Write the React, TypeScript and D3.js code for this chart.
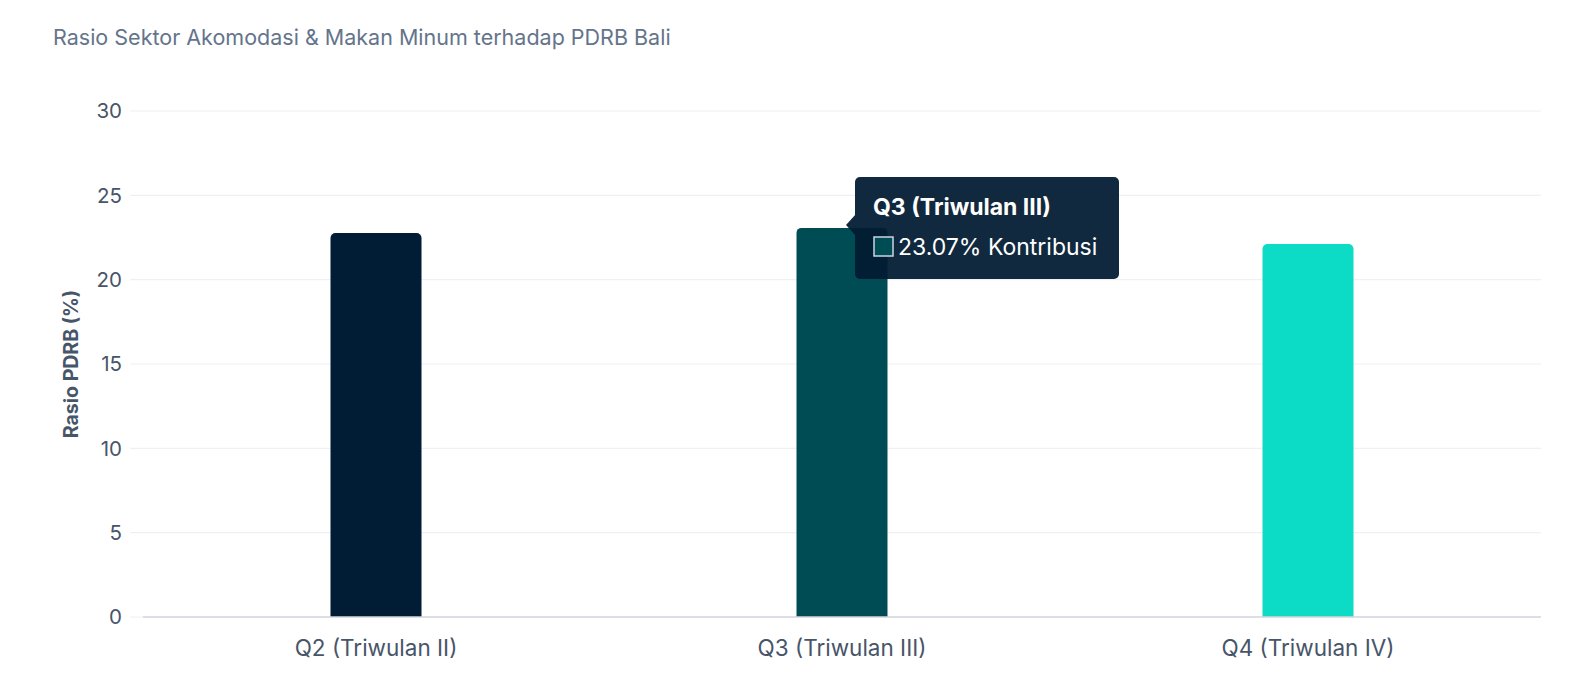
import { useEffect, useRef } from "react";
import * as d3 from "d3";

const quarters = ["Q2 (Triwulan II)", "Q3 (Triwulan III)", "Q4 (Triwulan IV)"];
const ratios = [22.77, 23.07, 22.11];
const barColors = ["#011d36", "#004c54", "#0cdbc6"];
const yTicks = [0, 5, 10, 15, 20, 25, 30];

const chartTitle = "Rasio Sektor Akomodasi & Makan Minum terhadap PDRB Bali";
const yTitle = "Rasio PDRB (%)";
const activeIndex = 1;
const tooltipLabel = "Kontribusi";

const width = 1596;
const height = 688;
const margin = { top: 111, right: 55, bottom: 71, left: 143 };
const font = "Inter, 'Noto Sans', sans-serif";

export default function App() {
  const svgRef = useRef<SVGSVGElement>(null);

  useEffect(() => {
    if (!svgRef.current) return;
    const svg = d3.select(svgRef.current);
    svg.selectAll("*").remove();

    const x0 = margin.left;
    const x1 = width - margin.right;
    const yBottom = height - margin.bottom;

    const xScale = d3.scaleBand().domain(quarters).range([x0, x1]);
    const yScale = d3.scaleLinear().domain([0, 30]).range([yBottom, margin.top]);
    const barWidth = 91;

    // title
    svg
      .append("text")
      .attr("x", 53)
      .attr("y", 45)
      .attr("font-family", font)
      .attr("font-size", 21.5)
      .attr("fill", "#64748b")
      .text(chartTitle);

    // grid lines
    svg
      .append("g")
      .selectAll("line")
      .data(yTicks)
      .join("line")
      .attr("x1", x0 - 13)
      .attr("x2", x1)
      .attr("y1", (d) => yScale(d))
      .attr("y2", (d) => yScale(d))
      .attr("stroke", "#f0f0f4")
      .attr("stroke-width", 1.2);

    // y tick labels
    svg
      .append("g")
      .selectAll("text")
      .data(yTicks)
      .join("text")
      .attr("x", 122)
      .attr("y", (d) => yScale(d))
      .attr("dy", "0.35em")
      .attr("text-anchor", "end")
      .attr("font-family", font)
      .attr("font-size", 20.5)
      .attr("fill", "#475569")
      .text((d) => d);

    // y axis title
    svg
      .append("text")
      .attr("transform", `translate(78,${(yBottom + margin.top) / 2}) rotate(-90)`)
      .attr("text-anchor", "middle")
      .attr("font-family", font)
      .attr("font-size", 19.5)
      .attr("font-weight", 700)
      .attr("fill", "#475569")
      .text(yTitle);

    // bars with rounded top corners
    const r = 5;
    svg
      .append("g")
      .selectAll("path")
      .data(quarters)
      .join("path")
      .attr("fill", (_d, i) => barColors[i])
      .attr("d", (d, i) => {
        const cx = (xScale(d) ?? 0) + xScale.bandwidth() / 2;
        const left = cx - barWidth / 2;
        const right = cx + barWidth / 2;
        const top = yScale(ratios[i]);
        const p = d3.path();
        p.moveTo(left, yBottom);
        p.lineTo(left, top + r);
        p.arcTo(left, top, left + r, top, r);
        p.lineTo(right - r, top);
        p.arcTo(right, top, right, top + r, r);
        p.lineTo(right, yBottom);
        p.closePath();
        return p.toString();
      });

    // x axis line
    svg
      .append("line")
      .attr("x1", x0)
      .attr("x2", x1)
      .attr("y1", yBottom)
      .attr("y2", yBottom)
      .attr("stroke", "#d4d7dd")
      .attr("stroke-width", 1.5);

    // x labels
    svg
      .append("g")
      .selectAll("text")
      .data(quarters)
      .join("text")
      .attr("x", (d) => (xScale(d) ?? 0) + xScale.bandwidth() / 2)
      .attr("y", yBottom + 31)
      .attr("dy", "0.35em")
      .attr("text-anchor", "middle")
      .attr("font-family", font)
      .attr("font-size", 22.5)
      .attr("fill", "#475569")
      .text((d) => d);

    // tooltip for the active bar
    const tx = 855;
    const ty = 177;
    const tw = 264;
    const th = 102;
    const tip = svg.append("g").attr("opacity", 0.94);
    tip
      .append("rect")
      .attr("x", tx)
      .attr("y", ty)
      .attr("width", tw)
      .attr("height", th)
      .attr("rx", 5)
      .attr("fill", "#021c32");
    tip
      .append("path")
      .attr("d", `M${tx + 1},${ty + 37} L${tx - 9},${ty + 48} L${tx + 1},${ty + 59} Z`)
      .attr("fill", "#021c32");

    svg
      .append("text")
      .attr("x", tx + 18)
      .attr("y", ty + 30)
      .attr("dy", "0.35em")
      .attr("font-family", font)
      .attr("font-size", 23)
      .attr("font-weight", 700)
      .attr("fill", "#ffffff")
      .text(quarters[activeIndex]);

    svg
      .append("rect")
      .attr("x", tx + 19)
      .attr("y", ty + 60)
      .attr("width", 19)
      .attr("height", 19)
      .attr("fill", barColors[activeIndex])
      .attr("stroke", "#cbd5e1")
      .attr("stroke-width", 1.5);

    svg
      .append("text")
      .attr("x", tx + 43)
      .attr("y", ty + 70)
      .attr("dy", "0.35em")
      .attr("font-family", font)
      .attr("font-size", 23)
      .attr("fill", "#ffffff")
      .text(`${ratios[activeIndex].toFixed(2)}% ${tooltipLabel}`);
  }, []);

  return (
    <svg
      ref={svgRef}
      width={width}
      height={height}
      style={{ position: "absolute", left: 0, top: 0, background: "#fff" }}
    />
  );
}
